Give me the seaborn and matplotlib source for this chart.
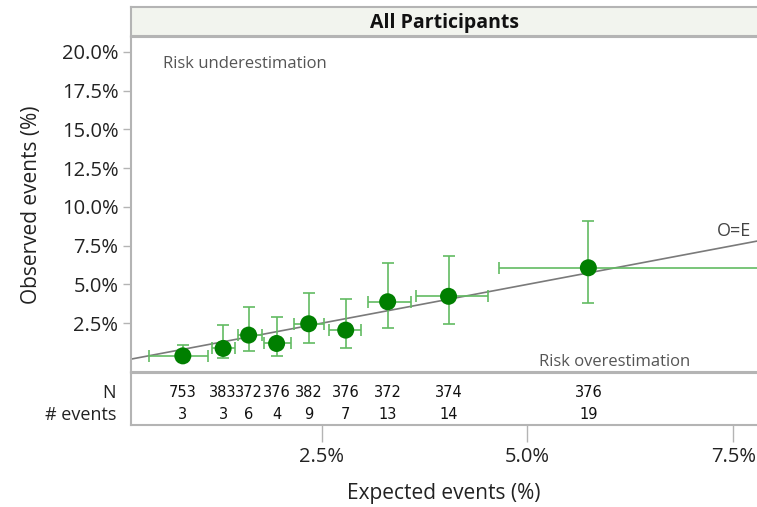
import matplotlib
matplotlib.use("Agg")
import matplotlib.pyplot as plt
import seaborn as sns
import pandas as pd
from matplotlib.ticker import FuncFormatter

# ---- data (percent) ----
expected = [0.81, 1.30, 1.61, 1.95, 2.34, 2.79, 3.30, 4.04, 5.74]
observed = [0.39, 0.87, 1.73, 1.19, 2.46, 2.05, 3.88, 4.23, 6.07]
obs_low = [0.10, 0.25, 0.72, 0.39, 1.23, 0.91, 2.20, 2.42, 3.77]
obs_high = [1.10, 2.37, 3.52, 2.89, 4.44, 4.03, 6.35, 6.81, 9.10]
exp_low = [0.40, 1.17, 1.48, 1.80, 2.16, 2.59, 3.06, 3.65, 4.65]
exp_high = [1.11, 1.44, 1.77, 2.12, 2.53, 2.98, 3.58, 4.52, 8.60]
n_vals = [753, 383, 372, 376, 382, 376, 372, 374, 376]
n_events = [3, 3, 6, 4, 9, 7, 13, 14, 19]
y_ticks = [2.5, 5.0, 7.5, 10.0, 12.5, 15.0, 17.5, 20.0]
x_ticks = [2.5, 5.0, 7.5]

df = pd.DataFrame({"expected": expected, "observed": observed})

sns.set_theme(style="white")
plt.rcParams["font.family"] = ["Open Sans", "DejaVu Sans"]

W, H = 757, 507
fig = plt.figure(figsize=(W / 100, H / 100), dpi=100)

def fx(px):
    return px / W

def fy(py):
    return 1 - py / H

frame_col = "#b4b4b4"
xlim = (0.18, 7.79)
ylim = (-0.65, 20.95)
axw = fx(757) - fx(131)

# main axes
ax = fig.add_axes([fx(131), fy(372), axw, fy(37) - fy(372)])
ax.set_xlim(xlim)
ax.set_ylim(ylim)

# O=E line
sns.lineplot(x=[0, 10], y=[0, 10], ax=ax, color="#7a7a7a", linewidth=1.2, zorder=2)
ax.text(7.72, 7.85, "O=E", ha="right", va="bottom", fontsize=13, color="#444444")

err_col = "#62bb62"
ax.errorbar(expected, observed,
            yerr=[[o - l for o, l in zip(observed, obs_low)], [h - o for o, h in zip(observed, obs_high)]],
            xerr=[[e - l for e, l in zip(expected, exp_low)], [h - e for e, h in zip(expected, exp_high)]],
            fmt="none", ecolor=err_col, elinewidth=1.2, capsize=4.5, capthick=1.2, zorder=3)
sns.scatterplot(data=df, x="expected", y="observed", ax=ax, color="#007f00",
                s=150, edgecolor="none", zorder=4)

ax.text(0.051, 0.919, "Risk underestimation", transform=ax.transAxes, fontsize=12,
        color="#555555", ha="left", va="center")
ax.text(0.652, 0.03, "Risk overestimation", transform=ax.transAxes, fontsize=12,
        color="#555555", ha="left", va="center")

ax.set_yticks(y_ticks)
ax.yaxis.set_major_formatter(FuncFormatter(lambda v, p: f"{v:.1f}%"))
ax.set_xticks([])
ax.tick_params(axis="y", left=True, length=6, width=1, color=frame_col, labelsize=14.5,
               labelcolor="#222222", pad=3)
ax.set_xlabel("")
ax.set_ylabel("Observed events (%)", fontsize=15, color="#222222", labelpad=14)
for s in ["left", "bottom", "top"]:
    ax.spines[s].set_color(frame_col)
    ax.spines[s].set_linewidth(1.5)
ax.spines["right"].set_visible(False)

# header strip
sx = fig.add_axes([fx(131), fy(36), axw, fy(7) - fy(36)])
sx.set_facecolor("#f2f4ee")
sx.set_xticks([])
sx.set_yticks([])
for s in ["left", "bottom", "top"]:
    sx.spines[s].set_color(frame_col)
    sx.spines[s].set_linewidth(1.5)
sx.spines["right"].set_visible(False)
sx.text((444 - 131) / (757 - 131), 0.45, "All Participants", transform=sx.transAxes,
        ha="center", va="center", fontsize=14, fontweight="bold", color="#111111")

# table axes
tx = fig.add_axes([fx(131), fy(425), axw, fy(373) - fy(425)])
tx.set_xlim(xlim)
tx.set_ylim(0, 1)
tx.set_yticks([])
tx.set_xticks(x_ticks)
tx.xaxis.set_major_formatter(FuncFormatter(lambda v, p: f"{v:.1f}%"))
tx.tick_params(axis="x", bottom=True, length=12, width=1, color=frame_col, labelsize=14.5,
               labelcolor="#222222", pad=4)
for s in ["left", "bottom", "top"]:
    tx.spines[s].set_color(frame_col)
    tx.spines[s].set_linewidth(1.5)
tx.spines["right"].set_visible(False)
tx.set_xlabel("Expected events (%)", fontsize=15, color="#222222", labelpad=11)

for xv, nv, ev in zip(expected, n_vals, n_events):
    tx.text(xv, 0.62, str(nv), ha="center", va="center", fontsize=10.5, color="#111111",
            family=["Liberation Sans Narrow", "DejaVu Sans"])
    tx.text(xv, 0.2, str(ev), ha="center", va="center", fontsize=10.5, color="#111111",
            family=["Liberation Sans Narrow", "DejaVu Sans"])

fig.text(fx(116), fy(393), "N", ha="right", va="center", fontsize=13, color="#222222")
fig.text(fx(116), fy(415), "# events", ha="right", va="center", fontsize=13, color="#222222")

fig.savefig("out.png", dpi=100)
